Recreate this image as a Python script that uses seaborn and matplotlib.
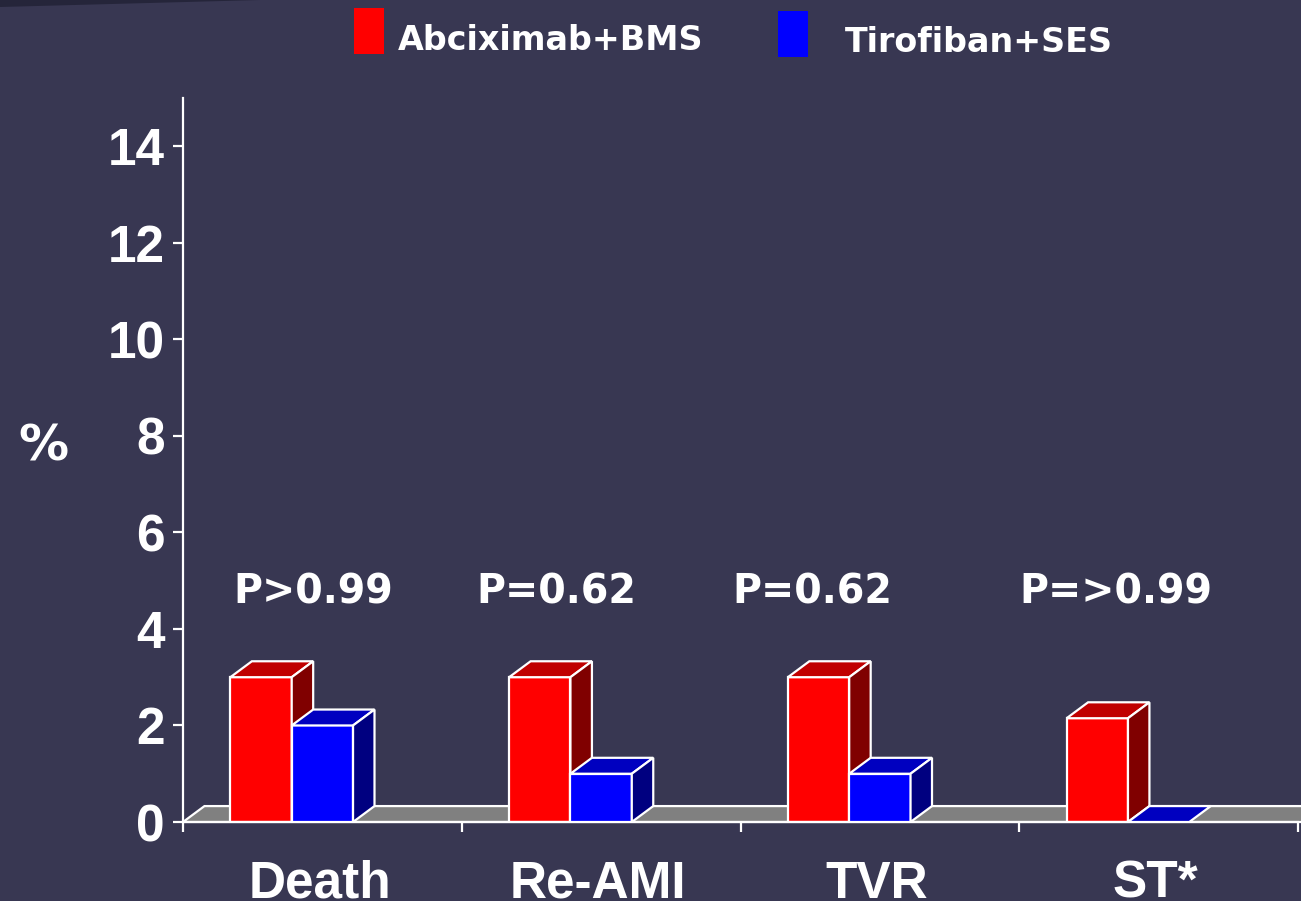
import numpy as np
import pandas as pd
import seaborn as sns
import matplotlib.pyplot as plt
from matplotlib.patches import Polygon, Rectangle

# data
outcomes = ["Death", "Re-AMI", "TVR", "ST*"]
groups = ["Abciximab+BMS", "Tirofiban+SES"]
abcix_bms = [3.0, 3.0, 3.0, 2.15]
tirof_ses = [2.0, 1.0, 1.0, 0.0]
p_labels = ["P>0.99", "P=0.62", "P=0.62", "P=>0.99"]
p_x = [0.076, 0.95, 1.868, 2.958]
y_ticks = [0, 2, 4, 6, 8, 10, 12, 14]

bg = "#383752"
front = {"Abciximab+BMS": "#ff0000", "Tirofiban+SES": "#0000ff"}
top_c = {"Abciximab+BMS": "#c00000", "Tirofiban+SES": "#0000c0"}
side_c = {"Abciximab+BMS": "#800000", "Tirofiban+SES": "#000080"}

df = pd.DataFrame({
    "outcome": outcomes * 2,
    "group": [groups[0]] * 4 + [groups[1]] * 4,
    "pct": abcix_bms + tirof_ses,
})

sns.set_theme(style="ticks", rc={"figure.facecolor": bg, "axes.facecolor": bg,
                                 "savefig.facecolor": bg})
plt.rcParams["font.family"] = ["Liberation Sans", "DejaVu Sans"]

fig = plt.figure(figsize=(13.01, 9.01), dpi=100)
ax = fig.add_axes([183 / 1301, 79 / 901, 1115 / 1301, 724 / 901])

sns.barplot(data=df, x="outcome", y="pct", hue="group", palette=front,
            width=0.44, saturation=1, edgecolor="white", linewidth=1.6,
            legend=False, ax=ax)

dx, dy = 0.077, 0.33
x0, x1 = -0.39, 3.61
ax.set_xlim(x0, x1)
ax.set_ylim(0, 15)

# 3d faces for each bar
for p in list(ax.patches):
    fc = p.get_facecolor()
    key = groups[0] if fc[0] > 0.5 else groups[1]
    z = 2 if key == groups[0] else 3
    x, w, h = p.get_x(), p.get_width(), p.get_height()
    p.set_zorder(z)
    ax.add_patch(Polygon([(x, h), (x + w, h), (x + w + dx, h + dy), (x + dx, h + dy)],
                         closed=True, fc=top_c[key], ec="white", lw=1.6, zorder=z))
    if h > 0:
        ax.add_patch(Polygon([(x + w, 0), (x + w + dx, dy), (x + w + dx, h + dy), (x + w, h)],
                             closed=True, fc=side_c[key], ec="white", lw=1.6, zorder=z))

# floor
ax.add_patch(Polygon([(x0, 0), (x1 + 0.2, 0), (x1 + 0.2 + dx, dy), (x0 + dx, dy)],
                     closed=True, fc="#808080", ec="white", lw=1.6, zorder=1, clip_on=False))

for xp, lab in zip(p_x, p_labels):
    ax.text(xp, 4.76, lab, ha="center", va="center", color="white", fontsize=28.5,
            fontweight="bold", family="DejaVu Sans")

for s in ["top", "right"]:
    ax.spines[s].set_visible(False)
for s in ["left", "bottom"]:
    ax.spines[s].set_color("white")
    ax.spines[s].set_linewidth(1.6)

ax.set_yticks(y_ticks)
ax.set_yticklabels([str(v) for v in y_ticks], fontsize=37, fontweight="bold", color="white")
ax.tick_params(axis="y", colors="white", length=7, width=1.6, pad=6)

ax.set_xticks(np.arange(len(outcomes)) + 0.1)
ax.set_xticklabels(outcomes, fontsize=37, fontweight="bold", color="white")
ax.tick_params(axis="x", which="major", length=0, pad=27)
ax.set_xticks(np.arange(5) + x0, minor=True)
ax.tick_params(axis="x", which="minor", colors="white", length=7, width=1.6)
ax.set_xlabel("")
ax.set_ylabel("")

fig.text(43 / 1301, 1 - 447 / 901, "%", ha="center", va="center", color="white",
         fontsize=36, fontweight="semibold", family="DejaVu Sans")

# legend
fig.patches.append(Rectangle((354 / 1301, 1 - 54 / 901), 30 / 1301, 46 / 901,
                             transform=fig.transFigure, fc="#ff0000", ec="none"))
fig.patches.append(Rectangle((778 / 1301, 1 - 57 / 901), 30 / 1301, 46 / 901,
                             transform=fig.transFigure, fc="#0000ff", ec="none"))
fig.text(398 / 1301, 1 - 41 / 901, groups[0], ha="left", va="center", color="white",
         fontsize=24, fontweight="bold", family="DejaVu Sans")
fig.text(845 / 1301, 1 - 43 / 901, groups[1], ha="left", va="center", color="white",
         fontsize=24, fontweight="bold", family="DejaVu Sans")

# slide corner sliver
fig.patches.append(Polygon([(0, 1), (260 / 1301, 1), (0, 1 - 7 / 901)], closed=True,
                           transform=fig.transFigure, fc="#25253a", ec="none"))

fig.savefig("out.png", dpi=100)
